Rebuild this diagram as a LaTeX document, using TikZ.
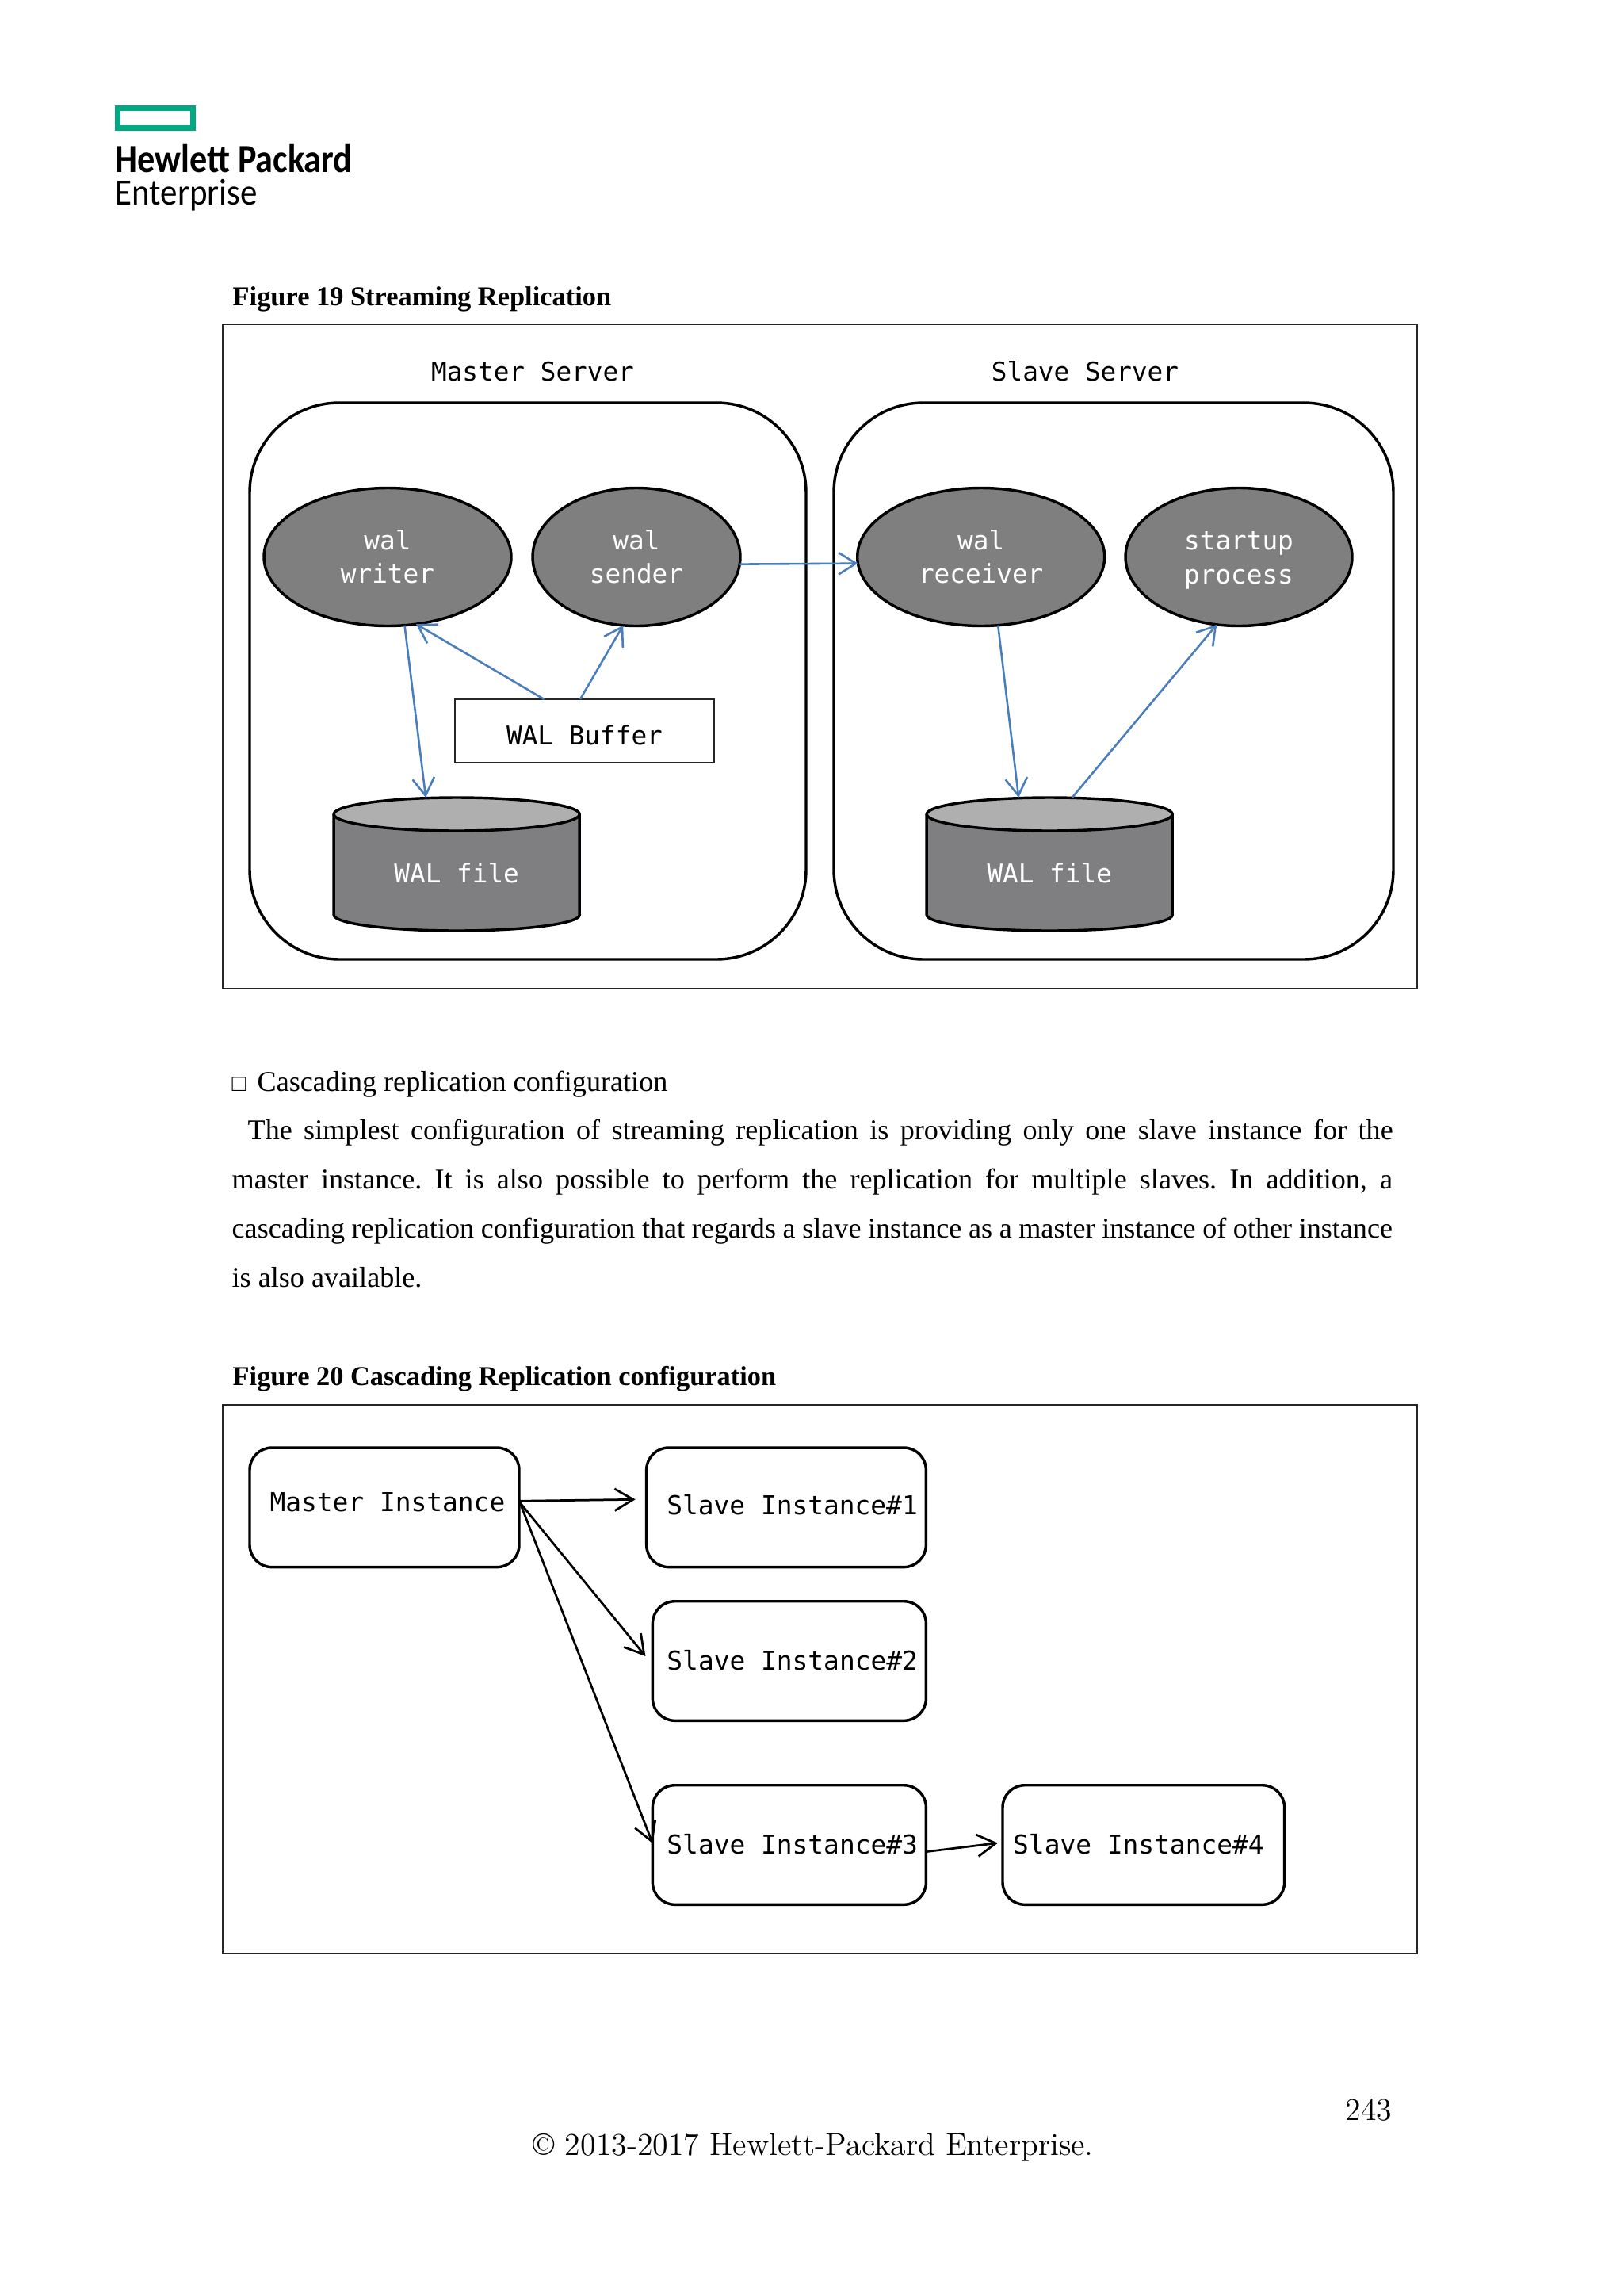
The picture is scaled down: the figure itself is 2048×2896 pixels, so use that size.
\documentclass[tikz,border=0pt]{standalone}
\usepackage{fontspec}
\usetikzlibrary{arrows.meta,calc,shapes.geometric}
\newfontfamily\tms{Liberation Serif}
\newfontfamily\mon{DejaVu Sans Mono}
\newfontfamily\logob[FakeStretch=0.88]{Carlito Bold}
\newfontfamily\logor[FakeStretch=0.92]{Carlito}
\AtBeginDocument{\frenchspacing}
\def\u{0.29066pt}
\definecolor{hpegreen}{RGB}{1,169,130}
\definecolor{arrowblue}{RGB}{74,126,187}
\definecolor{procgray}{RGB}{127,127,127}
\definecolor{cylbody}{RGB}{127,126,128}
\definecolor{cyltop}{RGB}{175,175,176}
\tikzset{
  framebox/.style={draw=black!85,line width=.55pt,inner sep=0,outer sep=0},
  server/.style={draw=black,line width=1pt,rounded corners=113*\u,inner sep=0,outer sep=0},
  proc/.style={ellipse,draw=black,fill=procgray,line width=1pt,inner sep=0,outer sep=0,
     minimum height=174*\u,text=white,align=center,font=\mon\fontsize{9.5}{12.27}\selectfont},
  cyltext/.style={inner sep=0,outer sep=0,minimum width=310*\u,text=white,
     text height=31.3pt,text depth=17.55pt,font=\mon\fontsize{9.5}{12}\selectfont},
  bufbox/.style={draw=black!85,line width=.55pt,inner sep=0,outer sep=0,minimum width=327*\u,
     text height=16.57pt,text depth=6.69pt,font=\mon\fontsize{9.5}{12}\selectfont},
  inst/.style={draw=black,line width=1pt,rounded corners=28*\u,inner xsep=0,inner ysep=0,outer sep=0,
     font=\mon\fontsize{9.55}{12}\selectfont},
  head/.style={inner sep=0,anchor=base,font=\mon\fontsize{9.5}{12}\selectfont},
  body/.style={inner sep=0,anchor=base west,font=\tms\fontsize{10.5}{18}\selectfont},
  caption/.style={inner sep=0,anchor=base west,font=\tms\bfseries\fontsize{10}{18}\selectfont},
  foot/.style={inner sep=0,anchor=base west,font=\fontsize{11.6}{14}\selectfont},
  barbblue/.style={draw=arrowblue,line width=.75pt,-{Straight Barb[length=6.4pt,width=8pt]}},
  barbblack/.style={draw=black,line width=.8pt,-{Straight Barb[length=6.8pt,width=8pt]}},
}
\newcommand{\cylshape}[1]{%
  \fill[cylbody] (#1-155,1027) -- (#1-155,1154) arc[start angle=180,end angle=360,x radius=155*\u,y radius=20*\u] -- (#1+155,1027) -- cycle;
  \draw[line width=1pt] (#1-155,1027) -- (#1-155,1154) arc[start angle=180,end angle=360,x radius=155*\u,y radius=20*\u] -- (#1+155,1027);
  \draw[line width=1pt,fill=cyltop] (#1,1027) ellipse[x radius=155*\u,y radius=21*\u];
}
\begin{document}
\begin{tikzpicture}[x=0.29066pt,y=-0.29066pt]
\fill[white] (0,0) rectangle (2048,2896);
\useasboundingbox (0,0) rectangle (2048,2896);

% logo
\node[draw=hpegreen,line width=2.03pt,inner sep=0,outer sep=0,minimum width=95*\u,minimum height=25*\u] (logobar) at (196,149) {};
\node[inner sep=0,anchor=base west,font=\logob\fontsize{14.6}{16}\selectfont] (logoa) at (145,217) {Hewlett Packard};
\node[inner sep=0,anchor=base west,font=\logor\fontsize{13.6}{16}\selectfont] (logob) at (145,258) {Enterprise};

% figure 19
\node[caption] (cap19) at (293,385) {Figure 19 Streaming Replication};
\node[framebox,minimum width=1507*\u,minimum height=837*\u] (frameA) at (1034.5,828) {};
\node[head] (mlabel) at (672,480) {Master Server};
\node[head] (slabel) at (1369,480) {Slave Server};
\node[server,minimum width=702*\u,minimum height=702*\u] (msrv) at (666,859) {};
\node[server,minimum width=706*\u,minimum height=702*\u] (ssrv) at (1405,859) {};

\node[proc,minimum width=312*\u] (writer) at (489,702.5) {\vphantom{l}wal\\writer};
\node[proc,minimum width=262*\u] (sender) at (803,702.5) {\vphantom{l}wal\\sender};
\node[proc,minimum width=312*\u] (receiver) at (1237.7,702.5) {\vphantom{l}wal\\receiver};
\node[proc,minimum width=286*\u] (startup) at (1563,702.5) {\vphantom{l}startup\\\smash{process}};
\node[bufbox] (buffer) at (737.5,922) {WAL Buffer};

\cylshape{576.2}
\node[cyltext] (fileA) at (576.2,1090) {WAL file};
\cylshape{1324.2}
\node[cyltext] (fileB) at (1324.2,1090) {WAL file};

\draw[barbblue] (writer.-76) -- ($(fileA.north)+(-39,0)$);
\draw[barbblue] ($(buffer.north)+(-51,0)$) -- (writer.-67);
\draw[barbblue] ($(buffer.north)+(-5.5,0)$) -- (sender.-101);
\draw[barbblue] (sender.-4) -- (receiver.183);
\draw[barbblue] (receiver.-76) -- ($(fileB.north)+(-39,0)$);
\draw[barbblue] ($(fileB.north)+(28.5,0)$) -- (startup.-108);

% text
\node[body] (lead) at (292,1376) {\makebox[9.3pt][l]{\fontsize{8.6}{18}\selectfont □}Cascading replication configuration};
\node[body] (lineA) at (312,1437) {\makebox[420pt][s]{The simplest configuration of streaming replication is providing only one slave instance for the}};
\node[body] (lineB) at (292,1499) {\makebox[425.6pt][s]{master instance. It is also possible to perform the replication for multiple slaves. In addition, a}};
\node[body] (lineC) at (292,1561) {\makebox[425.6pt][s]{cascading replication configuration that regards a slave instance as a master instance of other instance}};
\node[body] (lineD) at (292,1623) {is also available.};

% figure 20
\node[caption] (cap20) at (293,1747) {Figure 20 Cascading Replication configuration};
\node[framebox,minimum width=1507*\u,minimum height=692*\u] (frameB) at (1034.5,2118) {};

\node[inst,minimum width=340*\u,text height=23.5pt,text depth=20.27pt] (m) at (485,1901.3) {\hspace*{2.3pt}Master Instance};
\node[inst,minimum width=352.7*\u,text height=24.55pt,text depth=19.22pt] (sa) at (992,1901.3) {\hspace*{4.4pt}Slave Instance\#1};
\node[inst,minimum width=345*\u,text height=25.3pt,text depth=18.47pt] (sb) at (995.9,2095) {\hspace*{2.2pt}Slave Instance\#2};
\node[inst,minimum width=345*\u,text height=25.25pt,text depth=18.52pt] (sc) at (995.9,2327) {\hspace*{2.2pt}Slave Instance\#3};
\node[inst,minimum width=355.6*\u,text height=25.25pt,text depth=18.52pt] (sd) at (1442.8,2327) {Slave Instance\#4\hspace*{3.7pt}};

\draw[barbblack] ($(m.east)+(1,-8)$) -- ($(sa.west)+(-14,-10)$);
\draw[barbblack] ($(m.east)+(1,-6)$) -- ($(sb.west)+(-9,-6)$);
\draw[barbblack] ($(m.east)+(1,-6)$) -- ($(sc.west)+(0,-2)$);
\draw[barbblack] ($(sc.east)+(0,8.6)$) -- ($(sd.west)+(-6,-2.4)$);

% footer
\node[foot] (pageno) at (1697,2674) {243};
\node[foot] (copyr) at (672,2718) {© 2013-2017 Hewlett-Packard Enterprise.};
\end{tikzpicture}
\end{document}
